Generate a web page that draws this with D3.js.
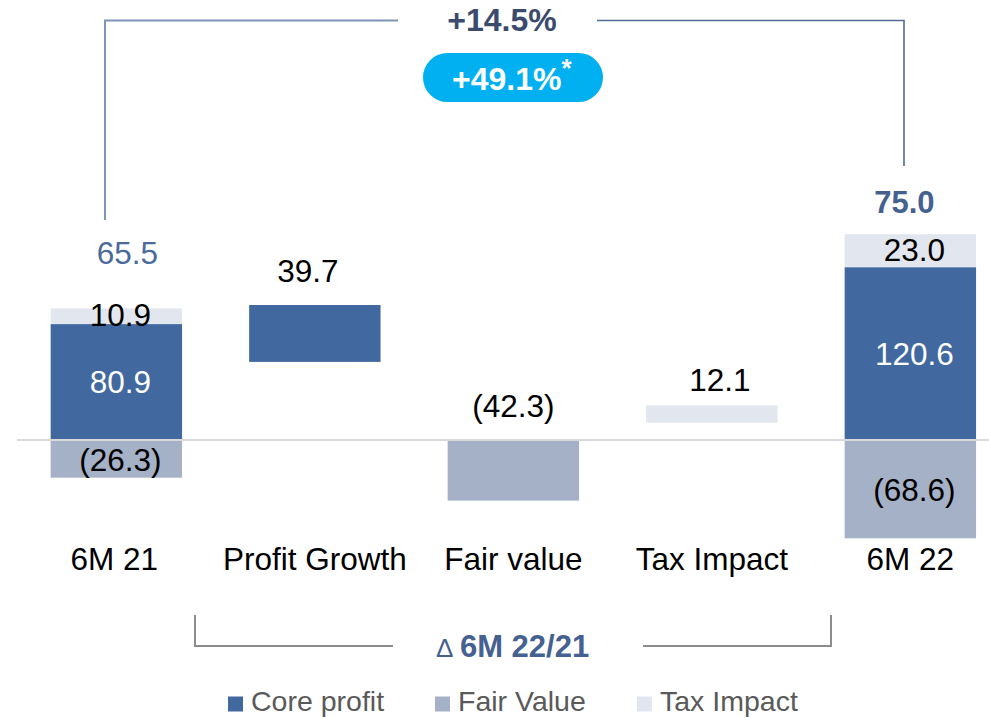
<!DOCTYPE html>
<html><head><meta charset="utf-8">
<script src="https://cdn.jsdelivr.net/npm/d3@7"></script>
<style>body{margin:0;background:#fff}svg{display:block}text{font-family:"Liberation Sans",Arial,sans-serif}</style>
</head><body>
<svg id="c" width="989" height="718"></svg>
<script>
const categories = ["6M 21","Profit Growth","Fair value","Tax Impact","6M 22"];
const seriesNames = ["Core profit","Fair Value","Tax Impact"];
// stacked totals (first and last columns)
const totalCats = ["6M 21","6M 22"];
const coreValues = [80.9, 120.6];
const fairValues = [-26.3, -68.6];
const taxValues = [10.9, 23.0];
const totalValues = [65.5, 75.0];
// floating bridge bars
const bridgeCats = ["Profit Growth","Fair value","Tax Impact"];
const bridgeSeries = ["Core profit","Fair Value","Tax Impact"];
const bridgeBase = [54.5, 0, 12.1];
const bridgeValues = [39.7, -42.3, 12.1];
const growthLabel = "+14.5%";
const adjGrowthLabel = "+49.1%";
const deltaSymbol = "\u2206";
const deltaLabel = "6M 22/21";

const colors = {"Core profit":"#41699f","Fair Value":"#a5b1c6","Tax Impact":"#e2e6ef"};
const fmt = v => v < 0 ? "(" + Math.abs(v).toFixed(1) + ")" : v.toFixed(1);

const svg = d3.select("#c");
const x = d3.scaleBand().domain(categories).range([17.1, 1009.6]).paddingInner(0.338).paddingOuter(0.169);
const y = d3.scaleLinear().domain([0, 100]).range([440, 296.7]);
const bw = x.bandwidth();

const g = svg.append("g");
totalCats.forEach((c, i) => {
  const segs = [
    {s:"Core profit", y0:0, y1:coreValues[i]},
    {s:"Tax Impact", y0:coreValues[i], y1:coreValues[i]+taxValues[i]},
    {s:"Fair Value", y0:0, y1:fairValues[i]}
  ];
  segs.forEach(d => {
    g.append("rect").attr("x", x(c)).attr("width", bw)
      .attr("y", y(Math.max(d.y0,d.y1))).attr("height", Math.abs(y(d.y0)-y(d.y1)))
      .attr("fill", colors[d.s]);
  });
});
bridgeCats.forEach((c, i) => {
  const a = bridgeBase[i], b = bridgeBase[i] + bridgeValues[i];
  g.append("rect").attr("x", x(c)).attr("width", bw)
    .attr("y", y(Math.max(a,b))).attr("height", Math.abs(y(a)-y(b)))
    .attr("fill", colors[bridgeSeries[i]]);
});
svg.append("line").attr("x1", 17).attr("x2", 989).attr("y1", y(0)).attr("y2", y(0))
  .attr("stroke", "#d9d9d9").attr("stroke-width", 2);

const lab = (xx, yy, t, fill, opts={}) => svg.append("text").attr("x", xx).attr("y", yy)
  .attr("text-anchor","middle").attr("font-size", opts.size || 31.5).attr("font-weight", opts.bold ? "bold" : "normal")
  .attr("fill", fill).text(t);

totalCats.forEach((c, i) => {
  const cx = x(c) + bw/2 + 4;
  const top = coreValues[i] + taxValues[i];
  lab(cx, (y(coreValues[i]) + y(top))/2 + 10, fmt(taxValues[i]), "#000");
  lab(cx, y(coreValues[i]/2) + 11, fmt(coreValues[i]), "#fff");
  lab(cx, y(fairValues[i]/2) + 12, fmt(fairValues[i]), "#000");
});
lab(x("6M 21") + bw/2 + 11, y(coreValues[0] + taxValues[0]) - 44, fmt(totalValues[0]), "#4a6a9a");
lab(x("6M 22") + bw/2 - 6, y(coreValues[1] + taxValues[1]) - 21, fmt(totalValues[1]), "#44618f", {bold:true, size:31});

bridgeCats.forEach((c, i) => {
  const top = Math.max(bridgeBase[i], bridgeBase[i] + bridgeValues[i]);
  const off = [-22.7, -23, -14][i];
  const dx = [-7, 0, 8][i];
  lab(x(c) + bw/2 + dx, y(top) + off, fmt(bridgeValues[i]), "#000");
});

categories.forEach(c => lab(x(c) + bw/2 - (c === "6M 21" ? 2 : 0), 570, c, "#000", {size:31.5}));

// top bracket
const xl = 105, xr = 904, yt = 20.5;
svg.append("path").attr("d", `M${xl},220 V${yt} H398`).attr("fill","none").attr("stroke", "#7f95b8").attr("stroke-width", 2);
svg.append("path").attr("d", `M597,${yt} H${xr} V166`).attr("fill","none").attr("stroke", "#4f6b99").attr("stroke-width", 1.6);
lab(502, 31, growthLabel, "#3a4b6d", {bold:true, size:32});
svg.append("rect").attr("x", 423).attr("y", 53).attr("width", 180).attr("height", 49).attr("rx", 24.5)
  .attr("fill", "#00b0f0");
const pt = svg.append("text").attr("x", 452).attr("y", 90).attr("font-size", 32).attr("font-weight","bold").attr("fill","#fff");
pt.append("tspan").text(adjGrowthLabel);
pt.append("tspan").attr("dy", -13).attr("font-size", 26).text("*");

// bottom bracket
svg.append("path").attr("d", "M195,615 V646 H393").attr("fill","none").attr("stroke","#8c8c8c").attr("stroke-width",2);
svg.append("path").attr("d", "M643,646 H831 V615").attr("fill","none").attr("stroke","#8c8c8c").attr("stroke-width",2);
const dt = svg.append("text").attr("x", 513).attr("y", 657).attr("text-anchor","middle").attr("fill","#44618f");
dt.append("tspan").attr("font-size", 26).text(deltaSymbol + " ");
dt.append("tspan").attr("font-size", 31).attr("font-weight","bold").text(deltaLabel);

// legend
const legX = [228, 435, 637];
seriesNames.forEach((s, i) => {
  svg.append("rect").attr("x", legX[i]).attr("y", 696.5).attr("width", 15).attr("height", 15).attr("fill", colors[s]);
  svg.append("text").attr("x", legX[i] + 23).attr("y", 711).attr("font-size", 28.5).attr("fill", "#595959").text(s);
});
</script>
</body></html>
